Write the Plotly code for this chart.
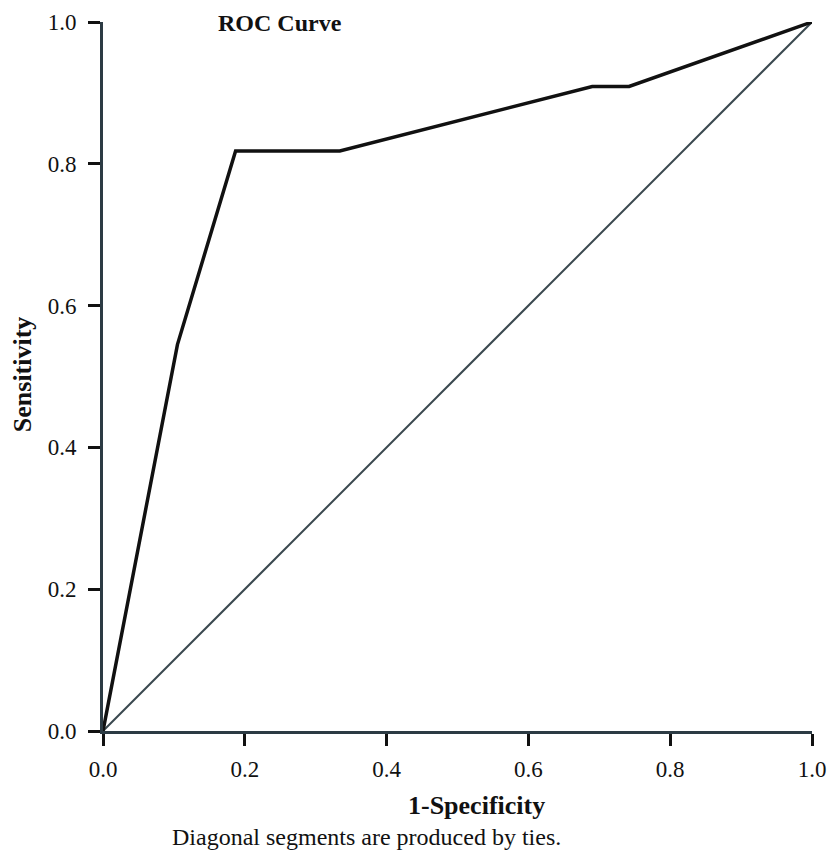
import plotly.graph_objects as go

# ROC curve data
fpr = [0.0, 0.105, 0.187, 0.334, 0.690, 0.742, 1.0]
tpr = [0.0, 0.545, 0.818, 0.818, 0.909, 0.909, 1.0]
ref_x = [0.0, 1.0]
ref_y = [0.0, 1.0]
tick_vals = [0.0, 0.2, 0.4, 0.6, 0.8, 1.0]
tick_text = ["0.0", "0.2", "0.4", "0.6", "0.8", "1.0"]

FONT = "Liberation Serif, Times New Roman, serif"
AXC = "#2c3b44"

fig = go.Figure()
fig.add_trace(go.Scatter(x=ref_x, y=ref_y, mode="lines",
                         line=dict(color="#3a484f", width=2),
                         cliponaxis=False, showlegend=False, hoverinfo="skip"))
fig.add_trace(go.Scatter(x=fpr, y=tpr, mode="lines",
                         line=dict(color="#111111", width=3.5),
                         cliponaxis=False, showlegend=False))

axis_common = dict(range=[0, 1], tickvals=tick_vals, ticktext=tick_text,
                   showgrid=False, zeroline=False, showline=True, automargin=False,
                   linecolor=AXC, linewidth=3, ticks="outside", ticklen=12,
                   tickwidth=3, tickcolor="#111111",
                   tickfont=dict(family=FONT, size=23, color="#111111"))

fig.update_xaxes(**axis_common, ticklabelstandoff=3)
fig.update_yaxes(**axis_common, ticklabelstandoff=7)

anns = [
    dict(text="<b>ROC Curve</b>", x=0.250, y=0.9986, font=dict(size=24)),
    dict(text="<b>1-Specificity</b>", x=0.527, y=-0.1044, font=dict(size=26)),
    dict(text="Diagonal segments are produced by ties.", x=0.372, y=-0.1495, font=dict(size=24)),
    dict(text="<b>Sensitivity</b>", x=-0.114, y=0.5035, font=dict(size=26), textangle=-90),
]
for a in anns:
    base = dict(xref="paper", yref="paper", showarrow=False, xanchor="center", yanchor="middle")
    base.update(a)
    base["font"] = dict(family=FONT, color="#111111", size=a["font"]["size"])
    fig.add_annotation(**base)

fig.update_layout(width=819, height=844, margin=dict(l=95, r=15, t=14, b=121),
                  plot_bgcolor="white", paper_bgcolor="white",
                  font=dict(family=FONT, color="#111111"))

fig.write_html("out.html")
